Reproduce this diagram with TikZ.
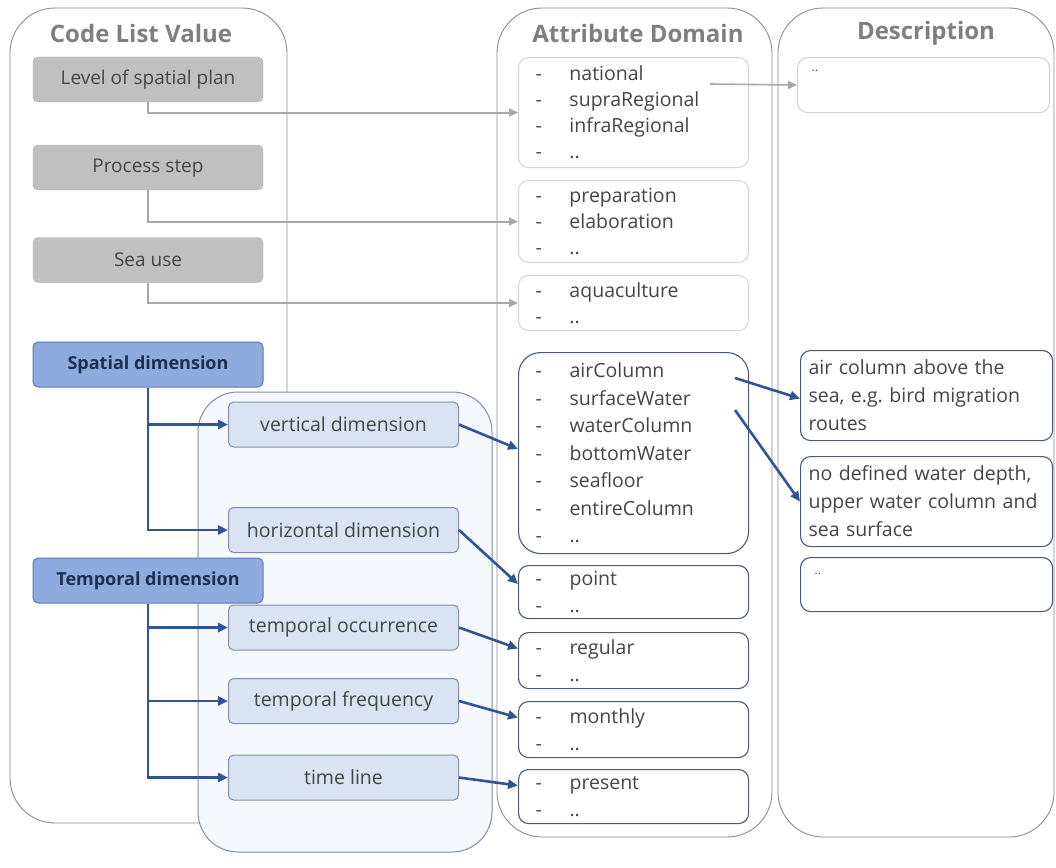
\documentclass[tikz,border=0pt]{standalone}
\usepackage{fontspec}
\setmainfont{Open Sans}
\usetikzlibrary{arrows.meta}
\definecolor{panelgray}{HTML}{8C8C8C}
\definecolor{titlegray}{HTML}{7F7F7F}
\definecolor{boxgray}{HTML}{C0C0C0}
\definecolor{textgray}{HTML}{454545}
\definecolor{linegray}{HTML}{A8A8A8}
\definecolor{faintgray}{HTML}{D4D4D4}
\definecolor{midblue}{HTML}{8FAADC}
\definecolor{midblueborder}{HTML}{5B7BB8}
\definecolor{navytext}{HTML}{1F2F4F}
\definecolor{lightblue}{HTML}{DAE3F3}
\definecolor{lightborder}{HTML}{7F8FA9}
\definecolor{contfill}{HTML}{F5F8FD}
\definecolor{linkblue}{HTML}{2F5597}
\definecolor{slate}{HTML}{4A5A75}
\tikzset{
  panel/.style={draw=panelgray, line width=0.9pt, rounded corners=45pt},
  paneltitle/.style={font=\fontsize{24}{28}\selectfont\bfseries, text=titlegray},
  graybox/.style={draw=boxgray!90!black, fill=boxgray, rounded corners=5pt, minimum width=230pt, minimum height=45pt, font=\fontsize{19}{22}\selectfont, text=textgray},
  darkbox/.style={draw=midblueborder, fill=midblue, line width=1pt, rounded corners=5pt, minimum width=230pt, minimum height=45pt, font=\fontsize{18}{22}\selectfont\bfseries, text=navytext},
  lightbox/.style={draw=lightborder, fill=lightblue, line width=1pt, rounded corners=5pt, minimum width=230pt, minimum height=45pt, font=\fontsize{19.5}{22}\selectfont, text=textgray},
  listbox/.style={rounded corners=10pt, minimum width=230pt, text width=196pt, inner xsep=17pt, align=left, anchor=north west, text=textgray},
  faintlist/.style={listbox, draw=faintgray, line width=1pt, font=\fontsize{19.5}{26}\selectfont},
  bluelist/.style={listbox, draw=slate, line width=1.1pt, font=\fontsize{19.5}{27.5}\selectfont},
  descbox/.style={draw=slate, line width=1.1pt, rounded corners=10pt, minimum width=252pt, text width=236pt, inner xsep=8pt, align=left, anchor=north west, font=\fontsize{19.5}{28}\selectfont, text=textgray},
  dotsbox/.style={descbox, text width=224pt, inner xsep=14pt, font=\fontsize{12}{14}\selectfont},
  gline/.style={draw=linegray, line width=2pt, -{Triangle[length=9pt,width=8pt]}},
  bline/.style={draw=linkblue, line width=2.6pt, -{Triangle[length=10pt,width=9pt]}},
}
\newcommand{\itm}[1]{\makebox[34pt][l]{-}#1}
\begin{document}
\begin{tikzpicture}[x=1pt,y=-1pt]
\useasboundingbox (0,0) rectangle (1056,867);
% panels
\draw[panel] (10,8) rectangle (287,823);
\draw[panel] (497,8) rectangle (772,837);
\draw[panel] (778,8) rectangle (1054,837);
\node[paneltitle] (t1) at (141,33) {Code List Value};
\node[paneltitle] (t2) at (638,33) {Attribute Domain};
\node[paneltitle] (t3) at (926,33) {Description};
% container
\draw[draw=lightborder, fill=contfill, line width=1pt, rounded corners=40pt] (198,392) rectangle (492,852);
% gray code list boxes
\node[graybox] (lvl) at (148,79.5) {Level of spatial plan};
\node[graybox] (proc) at (148,167.5) {Process step};
\node[graybox] (sea) at (148,260) {Sea use};
% blue code list boxes
\node[darkbox] (sd) at (148,364.5) {Spatial dimension};
\node[lightbox] (vd) at (343.5,424.5) {vertical dimension};
\node[lightbox] (hd) at (343.5,530) {horizontal dimension};
\node[darkbox] (td) at (148,580.5) {Temporal dimension};
\node[lightbox] (to) at (343.5,627.5) {temporal occurrence};
\node[lightbox] (tf) at (343.5,701) {temporal frequency};
\node[lightbox] (tl) at (343.5,777.5) {time line};
% attribute domain lists
\node[faintlist, minimum height=110pt] (nat) at (518,57) {\itm{national}\\\itm{supraRegional}\\\itm{infraRegional}\\\itm{..}};
\node[faintlist, minimum height=82pt] (prep) at (518,180) {\itm{preparation}\\\itm{elaboration}\\\itm{..}};
\node[faintlist, minimum height=55pt] (aqua) at (518,275) {\itm{aquaculture}\\\itm{..}};
\node[bluelist, minimum height=201pt, rounded corners=22pt] (air) at (518,352) {\itm{airColumn}\\\itm{surfaceWater}\\\itm{waterColumn}\\\itm{bottomWater}\\\itm{seafloor}\\\itm{entireColumn}\\\itm{..}};
\node[bluelist, minimum height=53pt] (pt) at (518,565) {\itm{point}\\\itm{..}};
\node[bluelist, minimum height=56pt] (reg) at (518,632) {\itm{regular}\\\itm{..}};
\node[bluelist, minimum height=56pt] (mon) at (518,701) {\itm{monthly}\\\itm{..}};
\node[bluelist, minimum height=54pt] (pres) at (518,769) {\itm{present}\\\itm{..}};
% description boxes
\node[dotsbox, draw=faintgray, minimum height=55pt, text depth=28pt] (dtop) at (797,57) {..};
\node[descbox, minimum height=90pt] (d1) at (800,350) {air column above the\\sea, e.g.\ bird migration\\routes};
\node[descbox, minimum height=90pt] (d2) at (800,456) {no defined water depth,\\upper water column and\\sea surface};
\node[dotsbox, minimum height=54pt, text depth=22pt] (d3) at (800,557) {..};
% gray connectors
\draw[gline] (lvl.south) |- (nat.west);
\draw[gline] (proc.south) |- (prep.west);
\draw[gline] (sea.south) |- (aqua.west);
\coordinate (natpt) at (710,84);
\draw[gline, line width=1.6pt] (natpt) -- (dtop.west);
% blue connectors
\draw[bline] (sd.south) |- (hd.west);
\draw[bline] (sd.south |- vd.west) -- (vd.west);
\draw[bline] (td.south) |- (tl.west);
\draw[bline] (td.south |- to.west) -- (to.west);
\draw[bline] (td.south |- tf.west) -- (tf.west);
\draw[bline] (vd.east) -- ([yshift=4pt]air.west);
\draw[bline] (hd.east) -- ([yshift=8pt]pt.west);
\draw[bline] (to.east) -- ([yshift=12pt]reg.west);
\draw[bline] (tf.east) -- ([yshift=12pt]mon.west);
\draw[bline] (tl.east) -- ([yshift=11pt]pres.west);
\coordinate (airpt) at (735,378);
\coordinate (surfpt) at (735,410);
\draw[bline] (airpt) -- ([yshift=-3pt]d1.west);
\draw[bline] (surfpt) -- (d2.west);
\end{tikzpicture}
\end{document}
